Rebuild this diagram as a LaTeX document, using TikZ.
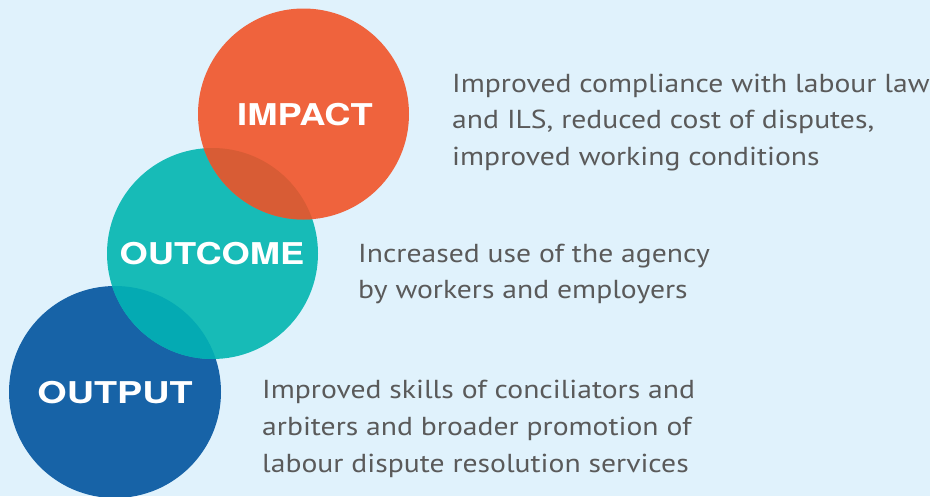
\documentclass[tikz,border=0pt]{standalone}
\usepackage{fontspec}
\setmainfont{PT Sans}
\newfontfamily\labelfont{TeX Gyre Heros}
\definecolor{bgc}{HTML}{E0F2FC}
\definecolor{orangec}{HTML}{EF633D}
\definecolor{tealc}{HTML}{17BBB7}
\definecolor{bluec}{HTML}{1763A7}
\definecolor{ovot}{HTML}{D85C35}
\definecolor{ovtb}{HTML}{04AAB3}
\definecolor{txtc}{HTML}{5A5A5A}
\begin{document}
\begin{tikzpicture}[x=1pt,y=-1pt,
  lab/.style={text=white, font=\labelfont\bfseries\fontsize{30}{30}\selectfont, inner sep=0pt, anchor=base, transform shape, xscale=1.21},
  body/.style={text=txtc, font=\fontsize{26}{36}\selectfont, inner sep=0pt, anchor=base west, transform shape, xscale=1.14}]
\fill[bgc] (0,0) rectangle (930,496);
\useasboundingbox (0,0) rectangle (930,496);
% circles
\fill[bluec] (115,392) circle (106);
\fill[tealc] (212.5,253.5) circle (105.5);
\fill[orangec] (303.5,114) circle (105.5);
\begin{scope}
  \clip (115,392) circle (106);
  \fill[ovtb] (212.5,253.5) circle (105.5);
\end{scope}
\begin{scope}
  \clip (212.5,253.5) circle (105.5);
  \fill[ovot] (303.5,114) circle (105.5);
\end{scope}
% labels
\node[lab] (impact) at (305,125) {IMPACT};
\node[lab] (outcome) at (212,264) {OUTCOME};
\node[lab, xscale=1.04] (output) at (115,403) {OUTPUT};
% texts
\node[body] (impA) at (452,92) {Improved compliance with labour law};
\node[body] (impB) at (452,128.5) {and ILS, reduced cost of disputes,};
\node[body] (impC) at (452,165) {improved working conditions};
\node[body] (outcA) at (358,262) {Increased use of the agency};
\node[body] (outcB) at (358,298) {by workers and employers};
\node[body] (outpA) at (262,398) {Improved skills of conciliators and};
\node[body] (outpB) at (262,435) {arbiters and broader promotion of};
\node[body] (outpC) at (262,472) {labour dispute resolution services};
\end{tikzpicture}
\end{document}
